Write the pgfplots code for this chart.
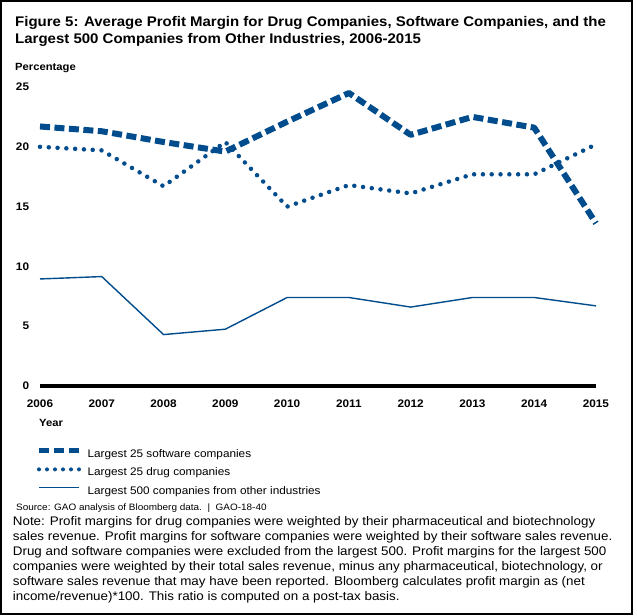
\documentclass[border=0pt]{standalone}
\usepackage{fontspec}
\setmainfont[FakeStretch=1.075]{Liberation Sans}
\usepackage{pgfplots}
\pgfplotsset{compat=1.18}
\definecolor{gaoblue}{RGB}{0,76,140}
\pgfplotsset{
  linelegend/.style={legend image code/.code={\draw[##1] (0bp,3.6bp) -- (40bp,3.6bp);}},
  swlegend/.style={legend image code/.code={\draw[##1, line width=5bp, dash pattern=on 10bp off 5bp] (0bp,3.6bp) -- (40bp,3.6bp);}},
  dotlegend/.style={legend image code/.code={\draw[##1, line width=4bp, dash pattern=on 0bp off 8bp] (0bp,3.6bp) -- (40bp,3.6bp);}},
}

\begin{document}
\begin{tikzpicture}
\fill[white] (0bp,0bp) rectangle (637bp,-616bp);
\draw[line width=1.3bp] (1bp,-1bp) rectangle (632bp,-614bp);
\node[anchor=base west, align=left, inner sep=0pt,
      font=\bfseries\fontsize{14}{16.7}\selectfont] at (15bp,-43.3bp)
  {Figure 5: Average Profit Margin for Drug Companies, Software Companies, and the\\
   Largest 500 Companies from Other Industries, 2006-2015};

\begin{axis}[
  at={(40bp,-386bp)}, anchor=south west,
  scale only axis, width=556bp, height=299bp,
  xmin=2006, xmax=2015, ymin=0, ymax=25, clip=false,
  axis x line*=bottom, axis y line*=left,
  y axis line style={draw=none},
  x axis line style={line width=3.5bp, black},
  major tick length=0pt,
  xtick={2006,2007,...,2015}, ytick={0,5,...,25},
  /pgf/number format/1000 sep={},
  /pgf/number format/assume math mode=true,
  ticklabel style={font=\bfseries\fontsize{11}{13}\selectfont, inner sep=0pt},
  xticklabel style={anchor=north, yshift=-14bp},
  yticklabel style={anchor=east, xshift=-10.7bp},
  every axis y label/.style={at={(axis description cs:-0.045,1.0545)}, anchor=base west,
    inner sep=0pt, font=\bfseries\fontsize{10.5}{12}\selectfont},
  every axis x label/.style={at={(axis description cs:-0.0018,-0.1371)}, anchor=base west,
    inner sep=0pt, font=\bfseries\fontsize{10.5}{12}\selectfont},
  ylabel={Percentage}, xlabel={Year},
  legend cell align=left,
  linelegend,
  legend style={at={(axis description cs:-0.00665,-0.2074)}, anchor=north west,
    draw=none, fill=none, inner sep=0pt, row sep=7.8bp, column sep=6bp,
    font=\fontsize{11}{13}\selectfont,
    nodes={inner sep=0pt, text height=8bp, text depth=2.5bp}},
]
\addplot[gaoblue, line width=6bp, dash pattern=on 10bp off 4.5bp, line join=round, swlegend]
  table {
x y
2006 21.7
2007 21.3
2008 20.4
2009 19.6
2010 22.1
2011 24.5
2012 21.0
2013 22.5
2014 21.6
2015 13.6
};
\addlegendentry{Largest 25 software companies}
\addplot[gaoblue, line width=4.5bp, dash pattern=on 0bp off 8.8bp, line cap=round, dotlegend]
  table {
x y
2006 20.0
2007 19.7
2008 16.7
2009 20.4
2010 15.0
2011 16.8
2012 16.1
2013 17.7
2014 17.7
2015 20.2
};
\addlegendentry{Largest 25 drug companies}
\addplot[gaoblue, line width=1.4bp]
  table {
x y
2006 8.95
2007 9.15
2008 4.3
2009 4.75
2010 7.4
2011 7.4
2012 6.6
2013 7.4
2014 7.4
2015 6.7
};
\addlegendentry{Largest 500 companies from other industries}
\end{axis}

\node[anchor=base west, inner sep=0pt, font=\fontsize{9.3}{11}\selectfont] at (16bp,-510bp)
  {Source: GAO analysis of Bloomberg data.\ \ |\ \ GAO-18-40};
\node[anchor=base west, align=left, inner sep=0pt, font=\fontsize{12.5}{15.14}\selectfont] at (12.7bp,-600.7bp)
  {Note: Profit margins for drug companies were weighted by their pharmaceutical and biotechnology\\
   sales revenue. Profit margins for software companies were weighted by their software sales revenue.\\
   Drug and software companies were excluded from the largest 500. Profit margins for the largest 500\\
   companies were weighted by their total sales revenue, minus any pharmaceutical, biotechnology, or\\
   software sales revenue that may have been reported. Bloomberg calculates profit margin as (net\\
   income/revenue)*100. This ratio is computed on a post-tax basis.};
\end{tikzpicture}
\end{document}
